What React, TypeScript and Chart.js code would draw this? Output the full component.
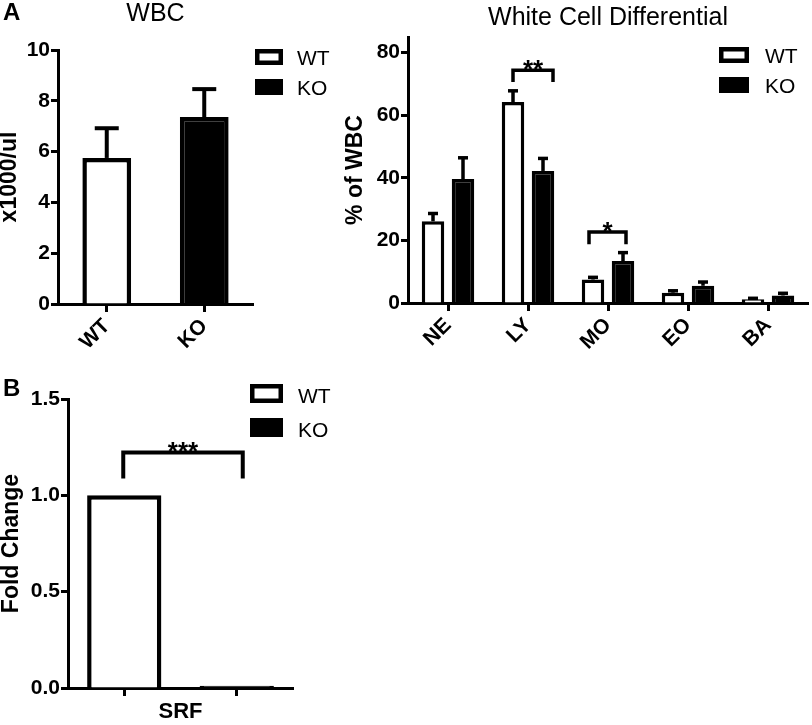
import React, { useEffect, useRef } from 'react';
import { Chart, registerables } from 'chart.js';

Chart.register(...registerables);

const FONT = "'Liberation Sans', Arial, Helvetica, sans-serif";

const seriesNames = ['WT', 'KO'];

// Panel A (left): WBC
const wbcCategories = ['WT', 'KO'];
const wbcWT = [5.75, null];
const wbcKO = [null, 7.36];
const wbcWTErr = [1.17, null];
const wbcKOErr = [null, 1.1];
const wbcTicks = [0, 2, 4, 6, 8, 10];

// Panel A (right): White Cell Differential
const diffCategories = ['NE', 'LY', 'MO', 'EO', 'BA'];
const diffWT = [26.1, 64.2, 7.5, 3.3, 1.2];
const diffWTErr = [2.5, 3.6, 0.7, 0.6, 0.3];
const diffKO = [39.6, 42.2, 13.4, 5.5, 2.4];
const diffKOErr = [6.8, 4.0, 2.7, 1.2, 0.7];
const diffTicks = [0, 20, 40, 60, 80];
const diffSig = [
  { cat: 1, text: '**', top: 74.4, legs: 70.6, dxl: 0, dxr: 10 },
  { cat: 2, text: '*', top: 22.7, legs: 18.8, dxl: -4, dxr: 3 },
];

// Panel B: SRF fold change
const srfCategories = ['WT', 'KO'];
const srfWT = [1.0, null];
const srfKO = [null, 0.012];
const srfTicks = [0, 0.5, 1.0, 1.5];
const srfSig = [{ text: '***', top: 1.222, legs: 1.088, dxl: -1, dxr: 6 }];

const annotPlugin = {
  id: 'annot',
  afterDatasetsDraw(chart: any, _args: any, opts: any) {
    const ctx = chart.ctx;
    const ys = chart.scales.y;
    ctx.save();
    ctx.strokeStyle = '#000';
    ctx.fillStyle = '#000';
    ctx.lineCap = 'butt';
    (opts.errors || []).forEach((errs: any, di: number) => {
      if (!errs) return;
      const meta = chart.getDatasetMeta(di);
      const data = chart.data.datasets[di].data;
      errs.forEach((e: any, i: number) => {
        const v = data[i];
        if (v == null || e == null) return;
        const el = meta.data[i];
        const x = el.x;
        const y0 = ys.getPixelForValue(v);
        const y1 = ys.getPixelForValue(v + e);
        ctx.lineWidth = opts.errWidth;
        ctx.beginPath();
        ctx.moveTo(x, y0);
        ctx.lineTo(x, y1);
        ctx.stroke();
        ctx.beginPath();
        ctx.moveTo(x - opts.capWidth / 2, y1);
        ctx.lineTo(x + opts.capWidth / 2, y1);
        ctx.stroke();
      });
    });
    (opts.brackets || []).forEach((b: any) => {
      const m0 = chart.getDatasetMeta(0);
      const m1 = chart.getDatasetMeta(1);
      const i0 = b.cat != null ? b.cat : 0;
      const i1 = b.cat != null ? b.cat : 1;
      const xl = m0.data[i0].x + b.dxl;
      const xr = m1.data[i1].x + b.dxr;
      const yt = ys.getPixelForValue(b.top);
      const yb = ys.getPixelForValue(b.legs);
      ctx.lineWidth = opts.bracketWidth;
      ctx.lineJoin = 'miter';
      ctx.beginPath();
      ctx.moveTo(xl, yb);
      ctx.lineTo(xl, yt);
      ctx.lineTo(xr, yt);
      ctx.lineTo(xr, yb);
      ctx.stroke();
      const size = opts.starSize;
      ctx.font = `bold ${size}px ${FONT}`;
      ctx.textAlign = 'center';
      ctx.textBaseline = 'alphabetic';
      ctx.fillText(b.text, (xl + xr) / 2, yt - opts.bracketWidth / 2 - 1 + 0.42 * size);
    });
    ctx.restore();
  },
  afterDraw(chart: any, _args: any, opts: any) {
    const ctx = chart.ctx;
    const ca = chart.chartArea;
    ctx.save();
    ctx.fillStyle = '#000';
    ctx.textBaseline = 'alphabetic';
    if (opts.letter) {
      ctx.font = `bold ${opts.letter.size}px ${FONT}`;
      ctx.textAlign = 'left';
      ctx.fillText(opts.letter.text, opts.letter.x, opts.letter.y);
    }
    if (opts.title) {
      ctx.font = `${opts.title.size}px ${FONT}`;
      ctx.textAlign = 'center';
      ctx.fillText(opts.title.text, (ca.left + ca.right) / 2, opts.title.y);
    }
    if (opts.legend) {
      const L = opts.legend;
      chart.data.datasets.forEach((ds: any, i: number) => {
        const y = L.y + i * L.step;
        ctx.fillStyle = ds.backgroundColor;
        ctx.fillRect(L.x, y, L.w, L.h);
        ctx.strokeStyle = ds.borderColor;
        ctx.lineWidth = L.border;
        ctx.strokeRect(L.x + L.border / 2, y + L.border / 2, L.w - L.border, L.h - L.border);
        ctx.fillStyle = '#000';
        ctx.font = `${L.size}px ${FONT}`;
        ctx.textAlign = 'left';
        ctx.fillText(ds.label, L.textX, y + L.h);
      });
    }
    ctx.restore();
  },
};

function yScale(ticksArr: number[], max: number, width: number, titleText: string, titlePad: number, fmt?: (v: number) => string) {
  return {
    type: 'linear',
    min: 0,
    max,
    afterBuildTicks: (s: any) => {
      s.ticks = ticksArr.map((v) => ({ value: v }));
    },
    afterFit: (s: any) => {
      s.width = width;
    },
    ticks: {
      color: '#000',
      font: { family: FONT, size: 21, weight: 'bold' },
      padding: 1,
      callback: fmt ? (v: any) => fmt(Number(v)) : (v: any) => String(v),
    },
    grid: { display: true, drawOnChartArea: false, drawTicks: true, tickLength: 7, tickWidth: 3, tickColor: '#000' },
    border: { display: true, color: '#000', width: 3 },
    title: {
      display: true,
      text: titleText,
      color: '#000',
      font: { family: FONT, size: 23, weight: 'bold', lineHeight: 1 },
      padding: { top: titlePad, bottom: 0 },
    },
  };
}

function xScale(height: number, showLabels: boolean, titleText?: string) {
  return {
    type: 'category',
    afterFit: (s: any) => {
      s.height = height;
    },
    ticks: {
      display: showLabels,
      color: '#000',
      font: { family: FONT, size: 21, weight: 'bold' },
      minRotation: 45,
      maxRotation: 45,
      autoSkip: false,
      padding: 2,
    },
    grid: { display: true, offset: false, drawOnChartArea: false, drawTicks: true, tickLength: 8, tickWidth: 3, tickColor: '#000' },
    border: { display: true, color: '#000', width: 3 },
    title: titleText
      ? {
          display: true,
          text: titleText,
          color: '#000',
          font: { family: FONT, size: 22, weight: 'bold', lineHeight: 1.2 },
          padding: 0,
        }
      : { display: false },
  };
}

function wtDataset(data: any[], bw: number, extra: any = {}) {
  return { label: seriesNames[0], data, backgroundColor: '#ffffff', borderColor: '#000000', borderWidth: bw, ...extra };
}
function koDataset(data: any[], bw: number, extra: any = {}) {
  return { label: seriesNames[1], data, backgroundColor: '#000000', borderColor: '#000000', borderWidth: bw, ...extra };
}

function wbcConfig(): any {
  return {
    type: 'bar',
    data: {
      labels: wbcCategories,
      datasets: [wtDataset(wbcWT, 4.5), koDataset(wbcKO, 4.5)],
    },
    options: {
      responsive: false,
      animation: false,
      grouped: false,
      categoryPercentage: 1,
      barPercentage: 0.5,
      layout: { padding: { left: 0, top: 50, right: 87, bottom: 0 } },
      scales: {
        x: xScale(46, true),
        y: yScale(wbcTicks, 10, 58, 'x1000/ul', -1.5),
      },
      plugins: {
        legend: { display: false },
        tooltip: { enabled: false },
        annot: {
          errors: [wbcWTErr, wbcKOErr],
          errWidth: 4,
          capWidth: 24,
          letter: { text: 'A', x: 3, y: 20, size: 24 },
          title: { text: 'WBC', y: 21, size: 25 },
          legend: { x: 255, y: 49, w: 28, h: 16, step: 30, border: 4.5, textX: 297, size: 21 },
        },
      },
    },
    plugins: [annotPlugin],
  };
}

function diffConfig(): any {
  return {
    type: 'bar',
    data: {
      labels: diffCategories,
      datasets: [wtDataset(diffWT, 3.5), koDataset(diffKO, 3.5)],
    },
    options: {
      responsive: false,
      animation: false,
      categoryPercentage: 0.75,
      barPercentage: 0.75,
      layout: { padding: { left: 0, top: 37, right: 4, bottom: 0 } },
      scales: {
        x: xScale(47, true),
        y: yScale(diffTicks, 85, 68, '% of WBC', 4.5),
      },
      plugins: {
        legend: { display: false },
        tooltip: { enabled: false },
        annot: {
          errors: [diffWTErr, diffKOErr],
          errWidth: 3.5,
          capWidth: 10,
          brackets: diffSig,
          bracketWidth: 3.5,
          starSize: 26,
          title: { text: 'White Cell Differential', y: 25, size: 25 },
          legend: { x: 379, y: 47, w: 30, h: 16, step: 30, border: 4.5, textX: 425, size: 21 },
        },
      },
    },
    plugins: [annotPlugin],
  };
}

function srfConfig(): any {
  return {
    type: 'bar',
    data: {
      labels: srfCategories,
      datasets: [wtDataset(srfWT, 4.5), koDataset(srfKO, 4.5)],
    },
    options: {
      responsive: false,
      animation: false,
      grouped: false,
      categoryPercentage: 1,
      barPercentage: 0.66,
      layout: { padding: { left: 0, top: 39, right: 47, bottom: 0 } },
      scales: {
        x: xScale(37, false, 'SRF'),
        y: yScale(srfTicks, 1.5, 68, 'Fold Change', 0, (v) => v.toFixed(1)),
      },
      plugins: {
        legend: { display: false },
        tooltip: { enabled: false },
        annot: {
          brackets: srfSig,
          bracketWidth: 4,
          starSize: 26,
          letter: { text: 'B', x: 3, y: 36, size: 24 },
          legend: { x: 250, y: 24, w: 33, h: 19, step: 34, border: 4.5, textX: 298, size: 21 },
        },
      },
    },
    plugins: [annotPlugin],
  };
}

function Panel(props: { left: number; top: number; width: number; height: number; make: () => any }) {
  const ref = useRef<HTMLCanvasElement | null>(null);
  useEffect(() => {
    const chart = new Chart(ref.current as HTMLCanvasElement, props.make());
    return () => chart.destroy();
  }, []);
  return (
    <canvas
      ref={ref}
      width={props.width}
      height={props.height}
      style={{ position: 'absolute', left: props.left, top: props.top, width: props.width, height: props.height }}
    />
  );
}

export default function App() {
  return (
    <div style={{ position: 'absolute', left: 0, top: 0, width: 812, height: 725, background: '#ffffff', overflow: 'hidden' }}>
      <Panel left={0} top={0} width={340} height={350} make={wbcConfig} />
      <Panel left={340} top={0} width={472} height={350} make={diffConfig} />
      <Panel left={0} top={360} width={340} height={365} make={srfConfig} />
    </div>
  );
}
